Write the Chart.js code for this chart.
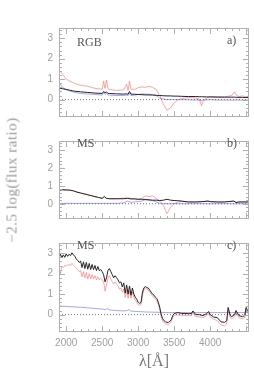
<!DOCTYPE html>
<html>
<head>
<meta charset="utf-8">
<script src="https://cdn.jsdelivr.net/npm/chart.js@4"></script>
<style>
  body { margin: 0; background: #fff; }
  #wrap { position: relative; width: 254px; height: 373px; }
  canvas { position: absolute; left: 0; }
  .lbl { position: absolute; font: 12px "Liberation Serif", serif; color: #555; line-height: 14px; }
  #ytitle {
    position: absolute; left: 12px; top: 180px; white-space: nowrap;
    font: 15px "Liberation Serif", serif; color: #999; letter-spacing: 0.5px;
    transform: translate(-50%, -50%) rotate(-90deg);
  }
</style>
</head>
<body>
<div id="wrap">
  <canvas id="chartA" width="254" height="129" style="top:0"></canvas>
  <canvas id="chartB" width="254" height="102" style="top:129px"></canvas>
  <canvas id="chartC" width="254" height="142" style="top:231px"></canvas>
  <div class="lbl" style="left:77px;top:35px">RGB</div>
  <div class="lbl" style="left:227px;top:33px">a)</div>
  <div class="lbl" style="left:77px;top:136px">MS</div>
  <div class="lbl" style="left:227px;top:136px">b)</div>
  <div class="lbl" style="left:77px;top:238px">MS</div>
  <div class="lbl" style="left:227px;top:238px">c)</div>
  <div id="ytitle">−2.5 log(flux ratio)</div>
</div>
<script>
const xTickLabels = [2000, 2500, 3000, 3500, 4000];
const yTickLabels = [0, 1, 2, 3];

// panel a) RGB
const waveA = [1900, 1950, 2000, 2050, 2100, 2150, 2200, 2300, 2400, 2500, 2520, 2540, 2560, 2580, 2600, 2700, 2800, 2840, 2860, 2880, 2900, 2950, 3000, 3050, 3100, 3150, 3200, 3250, 3300, 3350, 3400, 3450, 3500, 3550, 3600, 3700, 3800, 3850, 3880, 3900, 3950, 4000, 4100, 4200, 4300, 4340, 4370, 4400, 4450, 4500, 4540];
const redA = [1.45, 1.25, 1.0, 0.9, 0.82, 0.75, 0.7, 0.65, 0.55, 0.5, 0.9, 0.55, 0.95, 0.55, 0.5, 0.45, 0.48, 0.75, 0.45, 0.9, 0.5, 0.5, 0.58, 0.62, 0.6, 0.65, 0.6, 0.5, 0.2, -0.22, -0.52, -0.4, -0.15, -0.02, 0.05, 0.1, 0.08, 0.02, -0.3, -0.1, 0.08, 0.15, 0.15, 0.13, 0.2, 0.38, 0.2, 0.15, 0.18, 0.12, 0.12];
const blackA = [0.57, 0.53, 0.5, 0.46, 0.42, 0.4, 0.38, 0.35, 0.32, 0.3, 0.4, 0.33, 0.38, 0.3, 0.3, 0.28, 0.27, 0.28, 0.26, 0.4, 0.27, 0.26, 0.25, 0.24, 0.23, 0.23, 0.22, 0.21, 0.2, 0.19, 0.18, 0.18, 0.17, 0.17, 0.16, 0.15, 0.15, 0.14, 0.14, 0.14, 0.13, 0.13, 0.12, 0.12, 0.12, 0.12, 0.11, 0.11, 0.11, 0.1, 0.1];
const blueA = [0.82, 0.6, 0.48, 0.42, 0.37, 0.33, 0.3, 0.27, 0.25, 0.22, 0.35, 0.25, 0.3, 0.23, 0.22, 0.2, 0.2, 0.22, 0.2, 0.3, 0.2, 0.22, 0.25, 0.28, 0.27, 0.26, 0.25, 0.2, 0.08, 0.03, 0.0, 0.0, 0.0, 0.0, 0.0, -0.01, -0.02, -0.02, -0.06, -0.03, -0.01, 0.0, -0.02, -0.02, -0.02, -0.02, -0.02, -0.02, -0.02, -0.02, -0.02];

// panel b) MS
const waveB = [1900, 1920, 1950, 2000, 2050, 2100, 2150, 2200, 2250, 2300, 2350, 2400, 2450, 2500, 2530, 2560, 2600, 2700, 2800, 2850, 2900, 2950, 3000, 3050, 3100, 3150, 3200, 3250, 3300, 3350, 3400, 3450, 3500, 3550, 3600, 3700, 3800, 3900, 3970, 4000, 4100, 4200, 4330, 4360, 4400, 4500, 4540];
const blackB = [0.69, 0.77, 0.78, 0.77, 0.76, 0.72, 0.65, 0.6, 0.55, 0.5, 0.45, 0.4, 0.35, 0.3, 0.4, 0.3, 0.28, 0.28, 0.28, 0.3, 0.27, 0.27, 0.25, 0.25, 0.24, 0.22, 0.2, 0.2, 0.18, 0.2, 0.25, 0.2, 0.18, 0.17, 0.15, 0.1, 0.1, 0.12, 0.15, 0.12, 0.1, 0.1, 0.15, 0.07, 0.1, 0.1, 0.1];
const redB = [0.69, 0.77, 0.78, 0.77, 0.76, 0.72, 0.65, 0.6, 0.55, 0.5, 0.45, 0.4, 0.35, 0.3, 0.4, 0.3, 0.28, 0.28, 0.32, 0.32, 0.3, 0.27, 0.25, 0.3, 0.44, 0.4, 0.44, 0.3, 0.15, -0.1, -0.55, -0.2, 0.0, 0.1, 0.13, 0.1, 0.1, 0.12, 0.15, 0.12, 0.1, 0.1, 0.15, 0.07, 0.1, 0.1, 0.1];
const blueB = [0.02, 0.02, 0.02, 0.02, 0.02, 0.02, 0.02, 0.02, 0.02, 0.02, 0.02, 0.02, 0.02, 0.02, 0.02, 0.02, 0.02, 0.02, 0.05, 0.15, 0.08, 0.1, 0.12, 0.15, 0.22, 0.2, 0.18, 0.1, 0.03, 0.0, 0.0, 0.0, 0.0, 0.0, 0.0, 0.0, 0.0, 0.0, 0.0, 0.0, 0.0, 0.0, 0.0, 0.0, 0.0, 0.0, 0.0];

// panel c) MS
const waveC = [1900, 1920, 1940, 1960, 1980, 2000, 2020, 2040, 2060, 2080, 2100, 2120, 2140, 2160, 2180, 2200, 2220, 2240, 2260, 2280, 2300, 2320, 2340, 2360, 2380, 2400, 2420, 2440, 2460, 2480, 2500, 2520, 2540, 2560, 2580, 2600, 2620, 2640, 2660, 2680, 2700, 2720, 2740, 2760, 2780, 2800, 2820, 2840, 2860, 2880, 2900, 2920, 2940, 2960, 2980, 3000, 3020, 3040, 3060, 3080, 3100, 3120, 3140, 3160, 3180, 3200, 3220, 3240, 3260, 3280, 3300, 3320, 3340, 3360, 3380, 3400, 3420, 3440, 3460, 3480, 3500, 3550, 3600, 3650, 3700, 3740, 3760, 3800, 3850, 3900, 3950, 3980, 4000, 4050, 4100, 4150, 4200, 4230, 4250, 4280, 4300, 4340, 4360, 4400, 4450, 4480, 4500, 4520, 4540];
const blackC = [2.75, 2.95, 2.78, 2.92, 2.8, 2.97, 2.85, 2.95, 2.88, 3.02, 2.92, 2.85, 2.72, 2.65, 2.55, 2.62, 2.3, 2.58, 2.25, 2.55, 2.22, 2.5, 2.2, 2.45, 2.2, 2.4, 2.15, 2.35, 2.15, 2.2, 2.1, 1.95, 1.6, 1.8, 2.15, 2.25, 2.1, 1.95, 1.8, 1.9, 1.8, 1.7, 1.55, 1.6, 1.35, 1.55, 1.05, 1.45, 1.0, 1.4, 0.95, 1.3, 1.0, 0.85, 0.75, 0.6, 0.55, 0.6, 1.1, 1.3, 1.38, 1.32, 1.3, 1.2, 1.1, 1.0, 0.95, 0.85, 0.78, 0.6, 0.35, 0.0, -0.2, -0.3, -0.35, -0.38, -0.38, -0.33, -0.25, -0.05, 0.05, 0.1, 0.06, 0.05, 0.05, 0.05, 0.18, 0.0, 0.0, -0.05, 0.05, 0.15, 0.0, -0.12, -0.15, -0.35, -0.38, -0.3, 0.35, -0.05, -0.1, 0.0, 0.2, -0.05, -0.1, -0.05, 0.35, 0.2, 0.05];
const redC = [2.3, 2.0, 2.35, 2.3, 2.4, 2.38, 2.42, 2.45, 2.4, 2.5, 2.42, 2.35, 2.28, 2.2, 2.1, 2.15, 1.85, 2.1, 1.8, 2.05, 1.75, 2.0, 1.75, 1.95, 1.75, 1.9, 1.7, 1.85, 1.7, 1.78, 1.7, 1.6, 1.15, 1.45, 1.8, 1.9, 1.75, 1.6, 1.5, 1.6, 1.5, 1.4, 1.25, 1.3, 1.1, 1.25, 0.85, 1.2, 0.8, 1.15, 0.8, 1.1, 0.85, 0.7, 0.6, 0.48, 0.45, 0.5, 0.95, 1.2, 1.3, 1.25, 1.2, 1.1, 1.0, 0.9, 0.85, 0.75, 0.68, 0.5, 0.25, -0.1, -0.3, -0.4, -0.45, -0.48, -0.48, -0.43, -0.35, -0.15, -0.05, 0.0, -0.04, -0.05, -0.05, -0.05, 0.1, -0.1, -0.1, -0.15, -0.05, 0.05, -0.1, -0.22, -0.3, -0.5, -0.55, -0.45, 0.25, -0.15, -0.2, -0.1, 0.1, -0.15, -0.2, -0.15, 0.25, 0.1, -0.05];
const waveCBlue = [1900, 2000, 2100, 2200, 2300, 2400, 2500, 2550, 2570, 2600, 2700, 2800, 2850, 2870, 2900, 3000, 3100, 3200, 3300, 3400, 3500, 3700, 3900, 4100, 4300, 4540];
const blueC = [0.42, 0.4, 0.38, 0.36, 0.33, 0.3, 0.27, 0.24, 0.3, 0.23, 0.2, 0.18, 0.2, 0.25, 0.17, 0.15, 0.13, 0.12, 0.11, 0.1, 0.1, 0.1, 0.1, 0.1, 0.1, 0.1];

const BLACK = '#222';
const RED = 'rgba(255, 90, 90, 0.55)';
const BLUE = 'rgba(90, 90, 255, 0.55)';
const FRAME = '#b0b0b0';

function pts(xs, ys) {
  return xs.map((x, i) => ({ x: x, y: ys[i] }));
}

function line(data, color, order, dash) {
  return {
    data: data,
    borderColor: color,
    borderWidth: 1,
    borderDash: dash || [],
    pointRadius: 0,
    tension: 0,
    order: order
  };
}

// frame + inward ticks on all four sides
const frame = {
  id: 'frame',
  afterDraw(chart) {
    const { ctx, chartArea: a, scales: { x, y } } = chart;
    ctx.save();
    ctx.strokeStyle = FRAME;
    ctx.lineWidth = 1;
    ctx.strokeRect(a.left + 0.5, a.top + 0.5, a.width - 1, a.height - 1);
    ctx.beginPath();
    for (let v = 2000; v < x.max; v += 100) {
      const px = Math.round(x.getPixelForValue(v)) + 0.5;
      const len = v % 500 === 0 ? 6 : 3;
      ctx.moveTo(px, a.top); ctx.lineTo(px, a.top + len);
      ctx.moveTo(px, a.bottom); ctx.lineTo(px, a.bottom - len);
    }
    for (let k = -4; k <= 17; k++) {
      const py = Math.round(y.getPixelForValue(k / 5)) + 0.5;
      const len = k % 5 === 0 ? 6 : 3;
      ctx.moveTo(a.left, py); ctx.lineTo(a.left + len, py);
      ctx.moveTo(a.right, py); ctx.lineTo(a.right - len, py);
    }
    ctx.stroke();
    ctx.restore();
  }
};

function makeChart(id, sets, pad, showX) {
  return new Chart(document.getElementById(id), {
    type: 'line',
    data: {
      datasets: sets.concat([line([{ x: 1900, y: 0 }, { x: 4540, y: 0 }], '#777', 5, [1, 2])])
    },
    options: {
      responsive: false,
      animation: false,
      layout: { padding: pad },
      plugins: { legend: { display: false }, tooltip: { enabled: false } },
      scales: {
        x: {
          type: 'linear',
          min: 1900,
          max: 4540,
          display: showX,
          afterBuildTicks: s => { s.ticks = xTickLabels.map(v => ({ value: v })); },
          afterFit: s => { s.height = showX ? 41 : 0; },
          grid: { drawOnChartArea: false, drawTicks: false },
          border: { display: false },
          ticks: {
            color: '#a0a0a0', padding: 5,
            font: { family: 'Liberation Sans', size: 10 },
            callback: v => String(v)
          },
          title: {
            display: true,
            text: 'λ[Å]',
            color: '#777',
            padding: { top: 0, bottom: 2 },
            font: { family: 'Liberation Serif', size: 16 }
          }
        },
        y: {
          min: -0.85,
          max: 3.5,
          afterBuildTicks: s => { s.ticks = yTickLabels.map(v => ({ value: v })); },
          afterFit: s => { s.width = 59; },
          grid: { drawOnChartArea: false, drawTicks: false },
          border: { display: false },
          ticks: {
            color: '#a0a0a0', padding: 6,
            font: { family: 'Liberation Sans', size: 10 },
            callback: v => String(v)
          }
        }
      }
    },
    plugins: [frame]
  });
}

makeChart('chartA', [
  line(pts(waveA, blackA), BLACK, 0),
  line(pts(waveA, blueA), BLUE, 1),
  line(pts(waveA, redA), RED, 2)
], { top: 28, bottom: 2, left: 0, right: 5 }, false);

makeChart('chartB', [
  line(pts(waveB, blackB), BLACK, 0),
  line(pts(waveB, blueB), BLUE, 1),
  line(pts(waveB, redB), RED, 2)
], { top: 1, bottom: 2, left: 0, right: 5 }, false);

makeChart('chartC', [
  line(pts(waveC, blackC), BLACK, 0),
  line(pts(waveCBlue, blueC), BLUE, 1),
  line(pts(waveC, redC), RED, 2)
], { top: 2, bottom: 0, left: 0, right: 5 }, true);
</script>
</body>
</html>
